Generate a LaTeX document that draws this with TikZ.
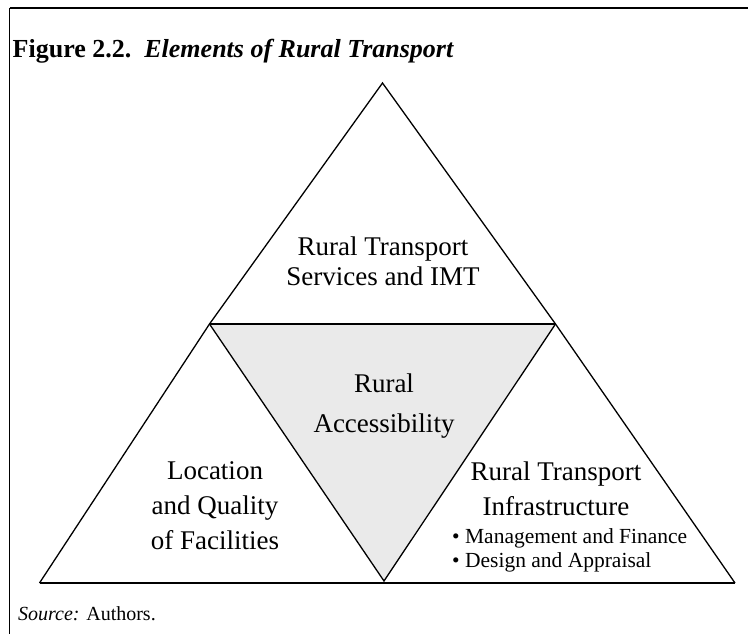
\documentclass[tikz,border=0pt]{standalone}
\usepackage{fontspec}
\setmainfont{Liberation Serif}
\definecolor{innergray}{HTML}{EAEAEA}
\tikzset{
  tri/.style={line width=1.3pt, line join=miter},
  baseline/.style={line width=2pt},
  frame/.style={line width=1.5pt},
  big/.style={font=\fontsize{27}{31}\selectfont, anchor=base, inner sep=0pt},
  small/.style={font=\fontsize{21.5}{24}\selectfont, anchor=base west, inner sep=0pt},
}
\begin{document}
\begin{tikzpicture}[x=1pt,y=-1pt]
\useasboundingbox (0,0) rectangle (748,634);
% frame
\coordinate (fl) at (9.5,634);
\coordinate (ftl) at (9.5,8.5);
\coordinate (ftr) at (748,8.5);
\draw[frame] (fl) -- (ftl);
\draw[line width=2pt] (ftl) -- (ftr);
% vertices
\coordinate (A) at (382.5,83);
\coordinate (B) at (39.5,583);
\coordinate (C) at (735,583);
\coordinate (P) at (209.5,324);
\coordinate (Q) at (555.5,324);
\coordinate (R) at (384,581);
% inner fill
\fill[innergray] (P) -- (Q) -- (R) -- cycle;
% lines
\draw[tri] (B) -- (P) -- (A) -- (Q) -- (C);
\draw[tri] (P) -- (Q);
\draw[tri] (P) -- (R) -- (Q);
\draw[baseline] (B) -- (C);
% title
\node[anchor=base west, inner sep=0pt, font=\fontsize{26}{30}\selectfont] (title) at (12.5,58)
  {\textbf{Figure 2.2.}\hspace{0.5em}\textbf{\textit{Elements of Rural Transport}}};
% top
\node[big] (t1) at (383,255) {Rural Transport};
\node[big] (t2) at (383,285) {Services and IMT};
% center
\node[big] (c1) at (384,392) {Rural};
\node[big] (c2) at (384,432) {Accessibility};
% left
\node[big] (l1) at (215,479) {Location};
\node[big] (l2) at (215,514) {and Quality};
\node[big] (l3) at (215,549) {of Facilities};
% right
\node[big] (r1) at (556,480) {Rural Transport};
\node[big] (r2) at (556,515) {Infrastructure};
\node[small] (b1) at (452,543) {\textbullet\ Management and Finance};
\node[small] (b2) at (452,567) {\textbullet\ Design and Appraisal};
% source
\node[anchor=base west, inner sep=0pt, font=\fontsize{20}{24}\selectfont] (src) at (18,620)
  {\textit{Source:} Authors.};
\end{tikzpicture}
\end{document}
